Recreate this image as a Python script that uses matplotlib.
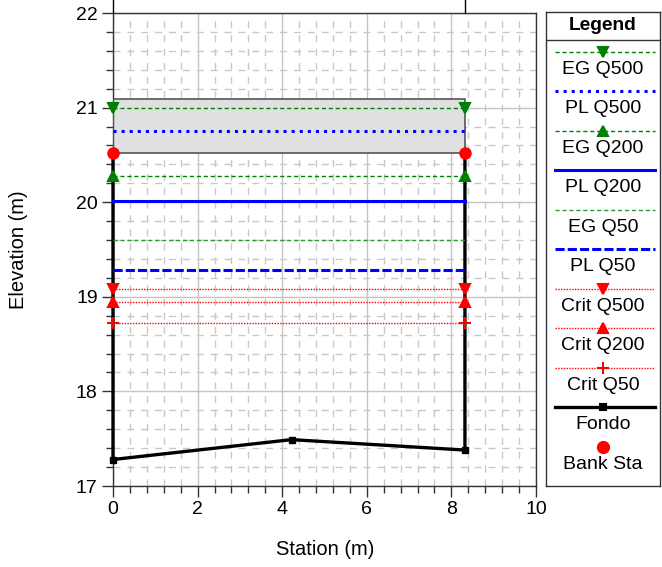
import matplotlib
matplotlib.use("Agg")
import matplotlib.pyplot as plt
from matplotlib.ticker import MultipleLocator

plt.rcParams['font.family'] = ['Liberation Sans', 'DejaVu Sans']

# ---- data ----
bank_sta = [0.0, 8.32]
bank_elev = [20.52, 20.52]
deck_low = 20.52
deck_high = 21.09

ground_sta = [0.0, 0.0, 4.22, 8.32, 8.32]
ground_elev = [20.52, 17.28, 17.49, 17.38, 20.52]

series_names = ["EG Q500", "PL Q500", "EG Q200", "PL Q200", "EG Q50",
                "PL Q50", "Crit Q500", "Crit Q200", "Crit Q50"]
series_elev = [21.00, 20.755, 20.28, 20.01, 19.60, 19.28, 19.08, 18.94, 18.72]
series_style = [
    dict(color='green', lw=1.0, ls=(0, (3, 2)), marker='v', ms=6.5),
    dict(color='blue', lw=2.2, ls=':', marker=None, ms=0),
    dict(color='green', lw=1.0, ls=(0, (3, 2)), marker='^', ms=6.5),
    dict(color='blue', lw=2.2, ls='-', marker=None, ms=0),
    dict(color='#2e9a2e', lw=1.0, ls=(0, (3, 2)), marker=None, ms=0),
    dict(color='blue', lw=2.2, ls=(0, (3, 1)), marker=None, ms=0),
    dict(color='red', lw=1.0, ls=(0, (1, 1)), marker='v', ms=6.5),
    dict(color='red', lw=1.0, ls=(0, (1, 1)), marker='^', ms=6.5),
    dict(color='red', lw=1.0, ls=(0, (1, 1)), marker='+', ms=8),
]

xlim = (0, 10)
ylim = (17, 22)

fig = plt.figure(figsize=(6.62, 5.67), dpi=100)
ax = fig.add_axes([113/662, 1-486/567, 423/662, 473/567])

ax.set_xlim(*xlim)
ax.set_ylim(*ylim)
ax.xaxis.set_major_locator(MultipleLocator(2))
ax.xaxis.set_minor_locator(MultipleLocator(0.4))
ax.yaxis.set_major_locator(MultipleLocator(1))
ax.yaxis.set_minor_locator(MultipleLocator(0.2))
ax.set_axisbelow(True)
ax.grid(which='major', color='#c4c4c4', lw=1.0, ls='-')
ax.grid(which='minor', color='#c8c8c8', lw=1.0, ls=(0, (5, 5)))
ax.tick_params(which='major', direction='out', length=8, width=1, color='#333333',
               labelsize=14, pad=3)
ax.tick_params(which='minor', direction='out', length=5, width=1, color='#333333')
ax.tick_params(top=False, right=False)
for s in ax.spines.values():
    s.set_color('#333333')
    s.set_linewidth(1.0)

# deck / gray box
ax.fill_between([bank_sta[0], bank_sta[1]], deck_low, deck_high,
                facecolor='#e0e0e0', edgecolor='none', zorder=2)
ax.plot([bank_sta[0], bank_sta[1], bank_sta[1], bank_sta[0], bank_sta[0]],
        [deck_low, deck_low, deck_high, deck_high, deck_low],
        color='#555555', lw=1.2, zorder=3)

# ground
ax.plot(ground_sta, ground_elev, color='black', lw=2.4, zorder=4, clip_on=False)
ax.plot(ground_sta[1:4], ground_elev[1:4], ls='none', marker='s', ms=4.5,
        color='black', zorder=5, clip_on=False)
# lines continuing above the frame
for s in bank_sta:
    ax.plot([s, s], [ylim[1], ylim[1] + 0.5], color='black', lw=1.0,
            clip_on=False, zorder=4)

# water surfaces
for name, el, st in zip(series_names, series_elev, series_style):
    ax.plot(bank_sta, [el, el], color=st['color'], lw=st['lw'], ls=st['ls'],
            marker=st['marker'], ms=st['ms'], mew=1.5, zorder=6,
            clip_on=False)

ax.plot(bank_sta, bank_elev, ls='none', marker='o', ms=8, color='red',
        zorder=7, clip_on=False)

ax.set_xlabel('Station (m)', fontsize=14.5)
ax.set_ylabel('Elevation (m)', fontsize=14.5)
ax.xaxis.set_label_coords(0.501, -0.114)
ax.yaxis.set_label_coords(-0.20, 0.5)

# ---- legend panel ----
lax = fig.add_axes([546/662, 1-486/567, 114/662, 474/567])
lax.set_xlim(0, 114)
lax.set_ylim(474, 0)
lax.set_xticks([])
lax.set_yticks([])
for s in lax.spines.values():
    s.set_color('#333333')
    s.set_linewidth(1.0)
lax.text(57, 13, 'Legend', ha='center', va='center', fontsize=13.8,
         fontweight='bold')
lax.plot([0, 114], [28, 28], color='#333333', lw=1.0)

entries = list(zip(series_names, series_style)) + [
    ("Fondo", dict(color='black', lw=2.4, ls='-', marker='s', ms=4.5)),
    ("Bank Sta", dict(color='red', lw=0, ls='none', marker='o', ms=8)),
]
for i, (name, st) in enumerate(entries):
    yl = 39.7 + 39.5 * i
    if st['ls'] != 'none' and st['lw'] > 0:
        lax.plot([9, 109], [yl, yl], color=st['color'], lw=st['lw'], ls=st['ls'])
    if st['marker']:
        lax.plot([57], [yl], marker=st['marker'], ms=st['ms'], color=st['color'],
                 mew=1.5, ls='none')
    lax.text(57, yl + 17.5, name, ha='center', va='center', fontsize=14)

fig.savefig('out.png', dpi=100)
